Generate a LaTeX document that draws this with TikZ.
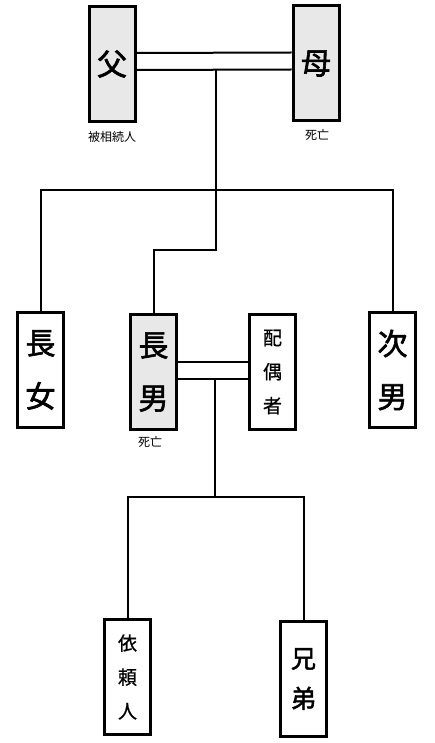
\documentclass[tikz,border=0pt]{standalone}
\usepackage{fontspec}
\newfontfamily\jp{Noto Sans CJK JP}
\newfontfamily\jpb[FakeBold=2]{Noto Sans CJK JP}
\newfontfamily\jpm[FakeBold=0.8]{Noto Sans CJK JP}
\begin{document}
\begin{tikzpicture}[x=1pt, y=-1pt,
    person/.style={draw, line width=3pt, minimum width=46pt, minimum height=115pt, inner sep=0pt, align=center},
    dead/.style={person, fill=gray!18},
    big/.style={font=\jpb\fontsize{30}{53}\selectfont},
    small/.style={font=\jpm\fontsize{19}{34}\selectfont},
    note/.style={font=\jp\fontsize{12}{14}\selectfont},
    line/.style={line width=2pt}]
  \useasboundingbox (0,0) rectangle (435,743);
  \node[dead, big] (fa) at (112,64) {父};
  \node[dead, big] (mo) at (316,63.5) {母};
  \node[note] (faL) at (112,137) {被相続人};
  \node[note] (moL) at (317,135) {死亡};
  \node[person, big] (dau) at (40.5,370) {長\\女};
  \node[dead, big] (son) at (153.5,372) {長\\男};
  \node[note] (sonL) at (150,442) {死亡};
  \node[person, small] (sp) at (272.5,372) {配\\偶\\者};
  \node[person, big] (son2) at (392.5,370) {次\\男};
  \node[person, small] (cl) at (127.5,677) {依\\頼\\人};
  \node[person, font=\jpb\fontsize{25}{40}\selectfont] (br) at (303.5,679) {兄\\弟};
  \coordinate (c1) at (216,70);
  \coordinate (b1) at (216,190);
  \coordinate (k1) at (216,250);
  \coordinate (c2) at (215,379);
  \coordinate (b2) at (215,497);
  \draw[line] ([yshift=11pt]fa.east) -- ([yshift=11pt]mo.west);
  \draw[line] ([yshift=-6pt]fa.east) -- ([yshift=-6pt]mo.west);
  \draw[line] (c1) -- (k1) -| (son.north);
  \draw[line] (dau.north) |- (b1) -| (son2.north);
  \draw[line] ([yshift=10pt]son.east) -- ([yshift=10pt]sp.west);
  \draw[line] ([yshift=-7pt]son.east) -- ([yshift=-7pt]sp.west);
  \draw[line] (c2) -- (b2);
  \draw[line] (cl.north) |- (b2) -| (br.north);
\end{tikzpicture}
\end{document}
